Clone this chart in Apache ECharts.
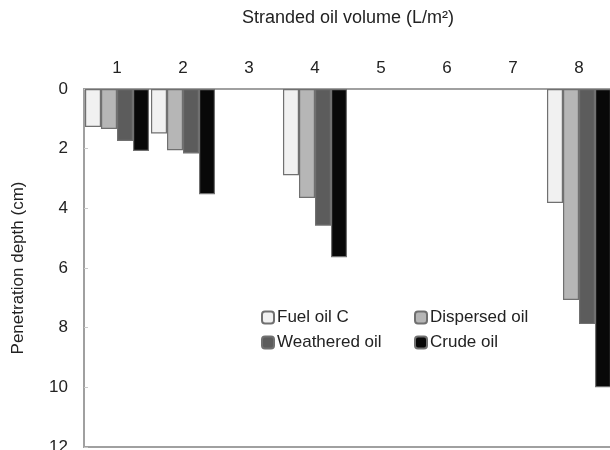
<!DOCTYPE html>
<html>
<head>
<meta charset="utf-8">
<script src="https://cdn.jsdelivr.net/npm/echarts@6/dist/echarts.min.js"></script>
<style>
  html, body { margin: 0; padding: 0; background: #fff; }
  #chart { width: 610px; height: 450px; }
</style>
</head>
<body>
<div id="chart"></div>
<script>
var categories = ['1', '2', '3', '4', '5', '6', '7', '8'];
var fuelOilC = [1.27, 1.49, null, 2.89, null, null, null, 3.82];
var dispersedOil = [1.34, 2.05, null, 3.65, null, null, null, 7.07];
var weatheredOil = [1.74, 2.16, null, 4.58, null, null, null, 7.88];
var crudeOil = [2.08, 3.53, null, 5.64, null, null, null, 10.0];
var depthTicks = [0, 12, 2]; // min, max, interval

var font = 'Liberation Sans, Arial, sans-serif';
var axisGray = '#a0a0a0';

function barSeries(name, data, color) {
    return {
        name: name,
        type: 'bar',
        data: data,
        barGap: '0%',
        barCategoryGap: '3%',
        itemStyle: {
            color: color,
            borderColor: '#707070',
            borderWidth: 1.2
        }
    };
}

var chart = echarts.init(document.getElementById('chart'));

chart.setOption({
    animation: false,
    textStyle: { fontFamily: font },
    grid: {
        left: 84,
        top: 89,
        width: 528,
        bottom: 3,
        outerBoundsMode: 'none',
        containLabel: false,
        show: true,
        borderColor: axisGray,
        borderWidth: 2
    },
    legend: [{
        orient: 'vertical',
        left: 256,
        top: 304,
        itemWidth: 12,
        itemHeight: 12,
        itemGap: 8,
        data: ['Fuel oil C', 'Weathered oil'],
        textStyle: { fontSize: 17, color: '#222', padding: [0, 0, 0, -2] }
    }, {
        orient: 'vertical',
        left: 409,
        top: 304,
        itemWidth: 12,
        itemHeight: 12,
        itemGap: 8,
        data: ['Dispersed oil', 'Crude oil'],
        textStyle: { fontSize: 17, color: '#222', padding: [0, 0, 0, -2] }
    }],
    xAxis: {
        type: 'category',
        position: 'top',
        data: categories,
        name: 'Stranded oil volume (L/m²)',
        nameLocation: 'middle',
        nameGap: 62,
        nameTextStyle: { fontSize: 18, color: '#222' },
        axisLine: { lineStyle: { color: axisGray, width: 2 } },
        axisTick: { inside: true, length: 4, lineStyle: { color: '#c8c8c8' } },
        axisLabel: { fontSize: 17, color: '#222', margin: 12 }
    },
    yAxis: {
        type: 'value',
        inverse: true,
        min: depthTicks[0],
        max: depthTicks[1],
        interval: depthTicks[2],
        name: 'Penetration depth (cm)',
        nameLocation: 'middle',
        nameGap: 57,
        nameTextStyle: { fontSize: 17, color: '#222' },
        axisLine: { show: true, lineStyle: { color: axisGray, width: 2 } },
        axisTick: { show: true, inside: true, length: 4, lineStyle: { color: '#c8c8c8' } },
        axisLabel: { fontSize: 17, color: '#222', margin: 16 },
        splitLine: { show: false }
    },
    series: [
        barSeries('Fuel oil C', fuelOilC, '#f1f1f1'),
        barSeries('Dispersed oil', dispersedOil, '#b6b6b6'),
        barSeries('Weathered oil', weatheredOil, '#5c5c5c'),
        barSeries('Crude oil', crudeOil, '#080808')
    ]
});
</script>
</body>
</html>
